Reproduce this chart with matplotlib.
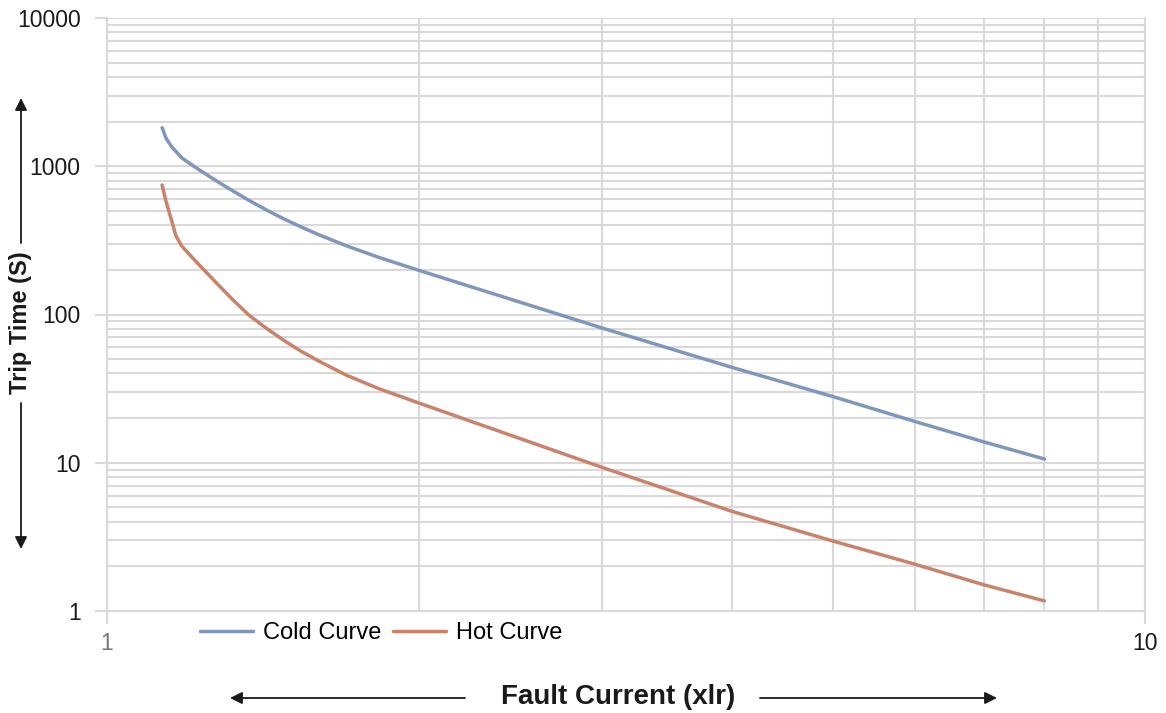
import matplotlib
matplotlib.use('Agg')
from matplotlib import pyplot as plt
from matplotlib.patches import FancyArrowPatch
from matplotlib.ticker import LogLocator, NullFormatter, FixedLocator, FixedFormatter
import numpy as np

plt.rcParams['font.family'] = ['Liberation Sans', 'DejaVu Sans']

# fault current multiples (x Ir)
current = [1.13, 1.14, 1.155, 1.165, 1.18, 1.20, 1.23, 1.275, 1.32, 1.37, 1.425, 1.48,
           1.535, 1.60, 1.70, 1.83, 2.0, 3.0, 4.0, 5.0, 6.0, 7.0, 8.0]
cold_curve = [1820, 1544, 1345, 1260, 1142, 1050, 935, 796, 686, 589, 506, 442,
              392, 345, 291, 242, 198, 81, 44, 28, 19, 13.8, 10.6]
hot_curve = [747, 577, 423, 340, 290, 255, 212, 163, 127, 99, 80.5, 67,
             57, 48.5, 39, 31.5, 25.2, 9.3, 4.7, 2.97, 2.07, 1.5, 1.17]

y_ticks = [1, 10, 100, 1000, 10000]
y_labels = ['1', '10', '100', '1000', '10000']

grid_col = '#d9d9d9'
W, H = 1166, 713

fig = plt.figure(figsize=(W / 100, H / 100), dpi=100)
ax = fig.add_axes([107/W, 1-611/H, (1145-107)/W, (611-18)/H])

ax.set_xscale('log')
ax.set_yscale('log')
ax.set_xlim(1, 10)
ax.set_ylim(1, 10000)

ax.plot(current, cold_curve, color='#7f96bd', lw=2.5, label='Cold Curve',
        solid_capstyle='round', solid_joinstyle='round')
ax.plot(current, hot_curve, color='#c9836a', lw=2.5, label='Hot Curve',
        solid_capstyle='round', solid_joinstyle='round')

ax.xaxis.set_major_locator(FixedLocator([1, 10]))
ax.xaxis.set_major_formatter(FixedFormatter(['1', '10']))
ax.xaxis.set_minor_locator(LogLocator(base=10, subs=np.arange(2, 10)))
ax.xaxis.set_minor_formatter(NullFormatter())
ax.yaxis.set_major_locator(FixedLocator(y_ticks))
ax.yaxis.set_major_formatter(FixedFormatter(y_labels))
ax.yaxis.set_minor_locator(LogLocator(base=10, subs=np.arange(2, 10)))
ax.yaxis.set_minor_formatter(NullFormatter())

ax.grid(True, which='both', color=grid_col, lw=1.5)
ax.set_axisbelow(True)
for s in ax.spines.values():
    s.set_color(grid_col)
    s.set_linewidth(1.5)
ax.spines['top'].set_visible(False)

ax.tick_params(axis='y', which='major', length=9, width=1.5, color=grid_col,
               labelsize=16.5, labelcolor='#1a1a1a', pad=10)
ax.tick_params(axis='x', which='major', length=9, width=1.5, color=grid_col,
               labelsize=16.5, pad=6)
ax.tick_params(which='minor', length=0)
xt = ax.get_xticklabels()
xt[0].set_color('#777777')
xt[1].set_color('#1a1a1a')

fig.legend(loc='center', bbox_to_anchor=(381/W, 1-633/H), ncol=2, frameon=False,
           fontsize=17, handlelength=2.25, handletextpad=0.42, columnspacing=0.5)

# axis titles with arrows
fig.text(618/W, 1-697/H, 'Fault Current (xlr)', ha='center', va='center',
         fontsize=20, fontweight='bold', color='#1a1a1a')
fig.text(21/W, 1-323/H, 'Trip Time (S)', ha='center', va='center', rotation=90,
         fontsize=17, fontweight='bold', color='#1a1a1a')

arrow = dict(arrowstyle='-|>', color='#1a1a1a', lw=1.3, mutation_scale=18, shrinkA=0, shrinkB=0)
for start, end in [((465, 698), (230, 698)), ((760, 698), (997, 698)),
                   ((21, 243), (21, 98)), ((21, 403), (21, 549))]:
    fig.add_artist(FancyArrowPatch((start[0]/W, 1-start[1]/H), (end[0]/W, 1-end[1]/H),
                                   transform=fig.transFigure, **arrow))

fig.savefig('out.png', dpi=100)
